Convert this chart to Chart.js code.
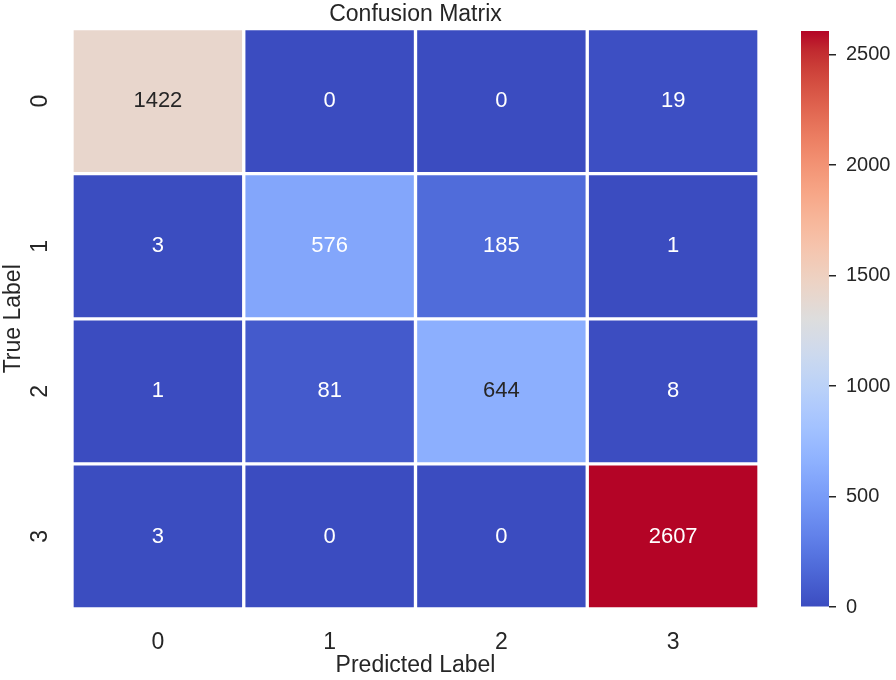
<!DOCTYPE html>
<html>

<head>
  <meta charset="utf-8">
  <title>Confusion Matrix</title>
  <style>
    body { margin: 0; background: #fff; }
    #wrap { position: relative; width: 896px; height: 680px; }
    canvas { position: absolute; top: 0; }
    #matriz { left: 0; }
    #barraCores { left: 780px; }
  </style>
</head>

<body>
  <div id="wrap">
    <canvas id="matriz" width="831" height="680"></canvas>
    <canvas id="barraCores" width="116" height="680"></canvas>
  </div>

  <script src="https://cdn.jsdelivr.net/npm/chart.js"></script>
  <script>
    // dados
    const rotulosPrevistos = ['0', '1', '2', '3'];
    const rotulosReais = ['0', '1', '2', '3'];
    const linha0 = [1422, 0, 0, 19];
    const linha1 = [3, 576, 185, 1];
    const linha2 = [1, 81, 644, 8];
    const linha3 = [3, 0, 0, 2607];
    const linhas = [linha0, linha1, linha2, linha3];
    const ticksBarra = [0, 500, 1000, 1500, 2000, 2500];

    const corTexto = '#262626';
    const fonte = 'Liberation Sans, Arial, sans-serif';

    // mapa de cores coolwarm (Moreland), 33 pontos
    const coolwarm = [
      [59,76,192],[68,90,204],[77,104,215],[87,117,225],[98,130,234],[108,142,241],
      [119,154,247],[130,165,251],[141,176,254],[152,185,255],[163,194,255],[174,201,253],
      [184,208,249],[194,213,244],[204,217,238],[213,219,230],[221,221,221],[229,216,209],
      [236,211,197],[241,204,185],[245,196,173],[247,187,160],[247,177,148],[247,166,135],
      [244,154,123],[241,141,111],[236,127,99],[229,112,88],[222,96,77],[213,80,66],
      [203,62,56],[192,40,47],[180,4,38]
    ];

    const vmax = Math.max(...linhas.flat());

    function corRgb(t) {
      t = Math.min(1, Math.max(0, t));
      const pos = t * (coolwarm.length - 1);
      const i = Math.min(Math.floor(pos), coolwarm.length - 2);
      const f = pos - i;
      const a = coolwarm[i], b = coolwarm[i + 1];
      return [0, 1, 2].map(k => Math.round(a[k] + (b[k] - a[k]) * f));
    }

    function cor(valor) {
      const [r, g, b] = corRgb(valor / vmax);
      return `rgb(${r},${g},${b})`;
    }

    // mesma regra do seaborn para escolher texto claro ou escuro
    function corDoNumero(valor) {
      const lin = corRgb(valor / vmax).map(c => {
        c = c / 255;
        return c <= 0.03928 ? c / 12.92 : Math.pow((c + 0.055) / 1.055, 2.4);
      });
      const lum = 0.2126 * lin[0] + 0.7152 * lin[1] + 0.0722 * lin[2];
      return lum > 0.408 ? corTexto : '#ffffff';
    }

    // escreve o valor no meio de cada celula
    const pluginNumeros = {
      id: 'numeros',
      afterDatasetsDraw(chart) {
        const ctx = chart.ctx;
        ctx.save();
        ctx.font = '22px ' + fonte;
        ctx.textAlign = 'center';
        ctx.textBaseline = 'middle';
        chart.data.datasets.forEach((ds, i) => {
          chart.getDatasetMeta(i).data.forEach((el, j) => {
            const valor = linhas[i][j];
            ctx.fillStyle = corDoNumero(valor);
            ctx.fillText(String(valor), el.x, (el.y + el.base) / 2);
          });
        });
        ctx.restore();
      }
    };

    new Chart(document.getElementById('matriz'), {
      type: 'bar',
      data: {
        labels: rotulosPrevistos,
        datasets: linhas.map((linha, i) => ({
          label: rotulosReais[i],
          data: linha.map(() => 1),
          backgroundColor: linha.map(cor),
          borderColor: '#ffffff',
          borderWidth: 2,
          borderSkipped: false,
          barPercentage: 1,
          categoryPercentage: 1
        }))
      },
      options: {
        responsive: false,
        animation: false,
        layout: { padding: { left: 0, right: 72, top: 0, bottom: 0 } },
        plugins: {
          legend: { display: false },
          tooltip: { enabled: false },
          title: {
            display: true,
            fullSize: false,
            text: 'Confusion Matrix',
            color: corTexto,
            font: { family: fonte, size: 23, weight: 'normal' },
            padding: { top: 1, bottom: 0 }
          }
        },
        scales: {
          x: {
            stacked: true,
            grid: { display: false },
            border: { display: false },
            ticks: { color: corTexto, font: { family: fonte, size: 23 }, padding: 12 },
            title: {
              display: true,
              text: 'Predicted Label',
              color: corTexto,
              font: { family: fonte, size: 23 },
              padding: { top: 0, bottom: 1 }
            },
            afterFit: (escala) => {
              escala.height = 71;
              escala.paddingLeft = 0;
              escala.paddingRight = 0;
            }
          },
          y: {
            stacked: true,
            reverse: true,
            min: 0,
            max: rotulosReais.length,
            grid: { display: false },
            border: { display: false },
            afterBuildTicks: (eixo) => {
              eixo.ticks = rotulosReais.map((_, i) => ({ value: i + 0.5 }));
            },
            ticks: {
              color: corTexto,
              font: { family: fonte, size: 23 },
              minRotation: 90,
              maxRotation: 90,
              crossAlign: 'center',
              padding: 17,
              callback: (valor) => rotulosReais[Math.floor(valor)]
            },
            title: {
              display: true,
              text: 'True Label',
              color: corTexto,
              font: { family: fonte, size: 23 },
              padding: { top: 0, bottom: 0 }
            },
            afterFit: (escala) => {
              escala.width = 72;
              escala.paddingTop = 0;
              escala.paddingBottom = 0;
            }
          }
        }
      },
      plugins: [pluginNumeros]
    });

    // barra de cores
    new Chart(document.getElementById('barraCores'), {
      type: 'bar',
      data: {
        labels: [''],
        datasets: [{
          data: [[0, vmax]],
          backgroundColor: (c) => {
            const area = c.chart.chartArea;
            if (!area) return cor(0);
            const g = c.chart.ctx.createLinearGradient(0, area.bottom, 0, area.top);
            coolwarm.forEach((rgb, k) => {
              g.addColorStop(k / (coolwarm.length - 1), `rgb(${rgb[0]},${rgb[1]},${rgb[2]})`);
            });
            return g;
          },
          borderWidth: 0,
          barPercentage: 1,
          categoryPercentage: 1
        }]
      },
      options: {
        responsive: false,
        animation: false,
        layout: { padding: { left: 21, right: 0, top: 31, bottom: 73 } },
        plugins: { legend: { display: false }, tooltip: { enabled: false } },
        scales: {
          x: { display: false },
          y: {
            position: 'right',
            min: 0,
            max: vmax,
            border: { display: false },
            grid: {
              drawOnChartArea: false,
              drawTicks: true,
              tickLength: 7,
              lineWidth: 1.5,
              color: corTexto
            },
            afterBuildTicks: (eixo) => {
              eixo.ticks = ticksBarra.map(v => ({ value: v }));
            },
            ticks: {
              color: corTexto,
              font: { family: fonte, size: 20 },
              padding: 10,
              callback: (valor) => String(valor)
            },
            afterFit: (escala) => {
              escala.width = 67;
              escala.paddingTop = 0;
              escala.paddingBottom = 0;
            }
          }
        }
      }
    });
  </script>
</body>
</html>
